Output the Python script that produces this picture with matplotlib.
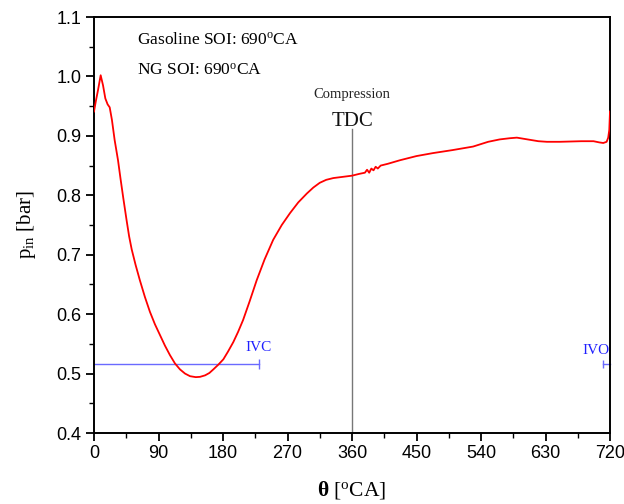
import matplotlib
matplotlib.use("Agg")
import matplotlib.pyplot as plt
from matplotlib.ticker import MultipleLocator, FormatStrFormatter

plt.rcParams["mathtext.fontset"] = "custom"
plt.rcParams["mathtext.rm"] = "Liberation Serif"
plt.rcParams["mathtext.it"] = "Liberation Serif:italic"
plt.rcParams["mathtext.bf"] = "Liberation Serif:bold"

theta = [0, 2.5, 5.6, 9.3, 12.6, 15.8, 19, 21.9, 25, 28.8, 33.5, 37, 40.9, 45.6, 49, 52.6, 58,
         64, 71, 78, 85, 92, 99, 106, 113, 120, 127, 134, 142, 148, 155, 161, 166.5, 173.5,
         180.5, 187, 194.4, 201, 208, 217, 227, 238, 250, 262, 273.5, 285, 297, 306, 315,
         324, 334, 347, 360, 370, 378, 381, 384, 387, 390, 393, 396, 400, 410, 427, 450,
         473, 500, 529, 550, 566, 580, 590, 605, 620, 632, 650, 680, 697, 705, 710.6,
         715.3, 717.5, 719, 720]
p_in = [0.941, 0.958, 0.977, 1.002, 0.985, 0.963, 0.953, 0.948, 0.927, 0.893, 0.859, 0.828,
        0.795, 0.757, 0.731, 0.709, 0.683, 0.657, 0.629, 0.604, 0.583, 0.565, 0.547, 0.531,
        0.517, 0.507, 0.500, 0.4956, 0.494, 0.4945, 0.497, 0.501, 0.507, 0.515, 0.524,
        0.537, 0.553, 0.570, 0.590, 0.621, 0.657, 0.692, 0.725, 0.750, 0.770, 0.788, 0.803,
        0.813, 0.821, 0.826, 0.829, 0.831, 0.833, 0.836, 0.838, 0.843, 0.838, 0.845, 0.842,
        0.848, 0.845, 0.850, 0.853, 0.859, 0.866, 0.871, 0.876, 0.882, 0.890, 0.894, 0.896,
        0.897, 0.894, 0.891, 0.890, 0.890, 0.891, 0.891, 0.889, 0.888, 0.890, 0.897, 0.910,
        0.941]

valve_level = 0.516
ivc_range = [0, 230]
ivo_range = [710, 720]
tdc_angle = 360
tdc_top = 0.912

xticks = [0, 90, 180, 270, 360, 450, 540, 630, 720]

serif = "Liberation Serif"

fig = plt.figure(figsize=(6.24, 5.04), dpi=100)
ax = fig.add_axes([94/624, 1 - 433/504, 516/624, 416/504])

ax.plot(theta, p_in, color="#ff0000", lw=1.3, zorder=3)

blue = "#6a6aff"
ax.plot(ivc_range, [valve_level]*2, color=blue, lw=1.0)
ax.plot([ivc_range[1]], [valve_level], marker="|", ms=7, color=blue, mew=1.0)
ax.plot(ivo_range, [valve_level]*2, color=blue, lw=1.0, clip_on=False)
ax.plot([ivo_range[0]], [valve_level], marker="|", ms=6, color=blue, mew=1.0)

ax.plot([tdc_angle, tdc_angle], [0.4, tdc_top], color="#777777", lw=1.0)

ax.text(230, 0.544, "IVC", color="#2020ff", fontsize=11, family=serif, ha="center", va="center")
ax.text(701, 0.538, "IVO", color="#2020ff", fontsize=11, family=serif, ha="center", va="center")
ax.text(360, 0.969, "Compression", color="#222222", fontsize=10.5, family=serif, ha="center", va="center")
ax.text(360, 0.925, "TDC", color="#111111", fontsize=15, family=serif, ha="center", va="center")

ax.text(60, 1.061, r"Gasoline SOI: 690$^{\rm o}$CA", fontsize=12.5, family=serif, ha="left", va="center")
ax.text(60, 1.009, r"NG SOI: 690$^{\rm o}$CA", fontsize=12.5, family=serif, ha="left", va="center")

ax.set_xlim(0, 720)
ax.set_ylim(0.4, 1.1)
ax.set_xticks(xticks)
ax.xaxis.set_minor_locator(MultipleLocator(45))
ax.yaxis.set_major_locator(MultipleLocator(0.1))
ax.yaxis.set_minor_locator(MultipleLocator(0.05))
ax.yaxis.set_major_formatter(FormatStrFormatter("%.1f"))
ax.tick_params(which="major", direction="out", length=6, width=1.3, labelsize=13, pad=3)
ax.tick_params(which="minor", direction="out", length=3.5, width=1.0)
for lab in ax.get_xticklabels() + ax.get_yticklabels():
    lab.set_family("Liberation Sans")
for s in ax.spines.values():
    s.set_linewidth(1.4)

ax.set_xlabel(r"$\mathbf{\theta}$ [$^{\rm o}$CA]", fontsize=15.5, family=serif, labelpad=12)
ax.set_ylabel(r"p$_{\rm in}$ [bar]", fontsize=15, family=serif, labelpad=13)

fig.savefig("out.png", dpi=100)
